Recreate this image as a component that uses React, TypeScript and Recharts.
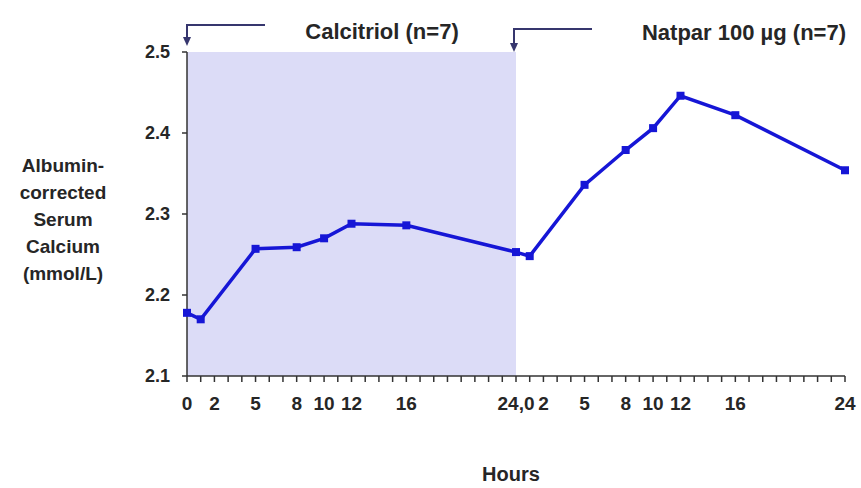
import React from 'react';
import {
  LineChart, Line, XAxis, YAxis, ReferenceArea,
} from 'recharts';

// hours on one continuous axis: 0-24 calcitriol, 24-48 Natpar
const hours = [0, 1, 5, 8, 10, 12, 16, 24, 25, 29, 32, 34, 36, 40, 48];
const calcium = [2.178, 2.17, 2.257, 2.259, 2.27, 2.288, 2.286, 2.253, 2.248, 2.336, 2.379, 2.406, 2.446, 2.422, 2.354];

const tickHours = Array.from({ length: 49 }, (_, i) => i);
const labelHours = [0, 2, 5, 8, 10, 12, 16, 24, 26, 29, 32, 34, 36, 40, 48];
const labelTexts = ['0', '2', '5', '8', '10', '12', '16', '24,0', '2', '5', '8', '10', '12', '16', '24'];

const yTicks = [2.1, 2.2, 2.3, 2.4, 2.5];
const yLabelLines = ['Albumin-', 'corrected', 'Serum', 'Calcium', '(mmol/L)'];

const BLUE = '#1616d6';
const INK = '#262626';
const NAVY = '#36366e';
const font = 'Arial, "Liberation Sans", sans-serif';

const chartData = hours.map((h, i) => ({ h, v: calcium[i] }));

const SquareDot = (props: any) => {
  const { cx, cy } = props;
  if (cx == null || cy == null) return null;
  return <rect x={cx - 4} y={cy - 4} width={8} height={8} fill={BLUE} />;
};

const XTick = (props: any) => {
  const { x, y, payload } = props;
  const idx = labelHours.indexOf(payload.value);
  if (idx < 0) return null;
  return (
    <text x={x} y={y + 26} textAnchor="middle" fontSize={19} fontWeight="bold" fill={INK} fontFamily={font}>
      {labelTexts[idx]}
    </text>
  );
};

export default function App() {
  return (
    <div style={{ position: 'fixed', left: 0, top: 0, width: 861, height: 488, background: '#fff' }}>
      <LineChart
        width={861}
        height={488}
        data={chartData}
        margin={{ top: 52, right: 16, bottom: 82, left: 127 }}
      >
        <ReferenceArea x1={0} x2={24} y1={2.1} y2={2.5} fill="#dcdcf7" fillOpacity={1} stroke="none" />
        <XAxis
          type="number"
          dataKey="h"
          domain={[0, 48]}
          ticks={tickHours}
          interval={0}
          height={30}
          tick={<XTick />}
          tickSize={6}
          axisLine={{ stroke: '#333', strokeWidth: 1.5 }}
          tickLine={{ stroke: '#333', strokeWidth: 1.5 }}
        />
        <YAxis
          domain={[2.1, 2.5]}
          ticks={yTicks}
          width={60}
          tickSize={5}
          tickMargin={12}
          tickFormatter={(v) => v.toFixed(1)}
          tick={{ fontSize: 18, fontWeight: 'bold', fill: INK, fontFamily: font }}
          axisLine={{ stroke: '#333', strokeWidth: 1.5 }}
          tickLine={{ stroke: '#333', strokeWidth: 1.5 }}
        />
        <Line
          type="linear"
          dataKey="v"
          stroke={BLUE}
          strokeWidth={3.5}
          dot={<SquareDot />}
          activeDot={false}
          isAnimationActive={false}
        />
      </LineChart>
      <svg width={861} height={488} style={{ position: 'absolute', left: 0, top: 0, pointerEvents: 'none' }}>
        <polyline points="265,25 187,25 187,38" fill="none" stroke={NAVY} strokeWidth={2} />
        <path d="M183,37 L191,37 L187,46 z" fill={NAVY} />
        <polyline points="592,29 514,29 514,44" fill="none" stroke={NAVY} strokeWidth={2} />
        <path d="M510,43 L518,43 L514,52 z" fill={NAVY} />
        <text x={382} y={39} textAnchor="middle" fontSize={22} fontWeight="bold" fill={INK} fontFamily={font}>
          Calcitriol (n=7)
        </text>
        <text x={744} y={40} textAnchor="middle" fontSize={22} fontWeight="bold" fill={INK} fontFamily={font}>
          Natpar 100 µg (n=7)
        </text>
        <text x={63} y={0} textAnchor="middle" fontSize={19} fontWeight="bold" fill={INK} fontFamily={font}>
          {yLabelLines.map((line, i) => (
            <tspan key={line} x={63} y={172 + i * 27}>{line}</tspan>
          ))}
        </text>
        <text x={511} y={481} textAnchor="middle" fontSize={20} fontWeight="bold" fill={INK} fontFamily={font}>
          Hours
        </text>
      </svg>
    </div>
  );
}
